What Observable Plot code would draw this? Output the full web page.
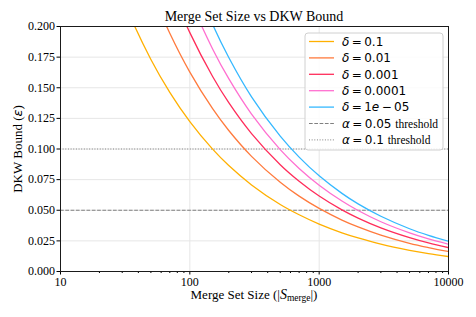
<!DOCTYPE html>
<html><head><meta charset="utf-8">
<script src="https://cdn.jsdelivr.net/npm/d3@7"></script>
<script src="https://cdn.jsdelivr.net/npm/@observablehq/plot@0.6"></script>
<style>
body{margin:0;background:#fff;}
#wrap{width:476px;height:317px;}
svg{display:block;}
</style></head><body><div id="wrap"></div>
<script>
// Merge set sizes (x)
const sizes = [10,15,20,30,50,70,100,150,200,300,500,700,1000,1500,2000,3000,5000,7000,10000];
// DKW bound per delta
const bound_d1 = [0.3870,0.3160,0.2737,0.2234,0.1731,0.1463,0.1224,0.0999,0.0865,0.0707,0.0547,0.0463,0.0387,0.0316,0.0274,0.0223,0.0173,0.0146,0.0122];
const bound_d2 = [0.5147,0.4203,0.3639,0.2972,0.2302,0.1945,0.1628,0.1329,0.1151,0.0940,0.0728,0.0615,0.0515,0.0420,0.0364,0.0297,0.0230,0.0195,0.0163];
const bound_d3 = [0.6165,0.5034,0.4359,0.3559,0.2757,0.2330,0.1950,0.1592,0.1378,0.1126,0.0872,0.0737,0.0616,0.0503,0.0436,0.0356,0.0276,0.0233,0.0195];
const bound_d4 = [0.7037,0.5746,0.4976,0.4063,0.3147,0.2660,0.2225,0.1817,0.1574,0.1285,0.0995,0.0841,0.0704,0.0575,0.0498,0.0406,0.0315,0.0266,0.0223];
const bound_d5 = [0.7812,0.6379,0.5524,0.4510,0.3494,0.2953,0.2470,0.2017,0.1747,0.1426,0.1105,0.0934,0.0781,0.0638,0.0552,0.0451,0.0349,0.0295,0.0247];
const deltaLabels = ["0.1","0.01","0.001","0.0001","1e − 05"];
const seriesColors = ["#ffb000","#ff7a3d","#ff2d5a","#ff6fd0","#35b8ff"];
const thresholdValues = [0.05, 0.1];
const thresholdLabels = ["0.05","0.1"];
const yTicks = [0,0.025,0.05,0.075,0.1,0.125,0.15,0.175,0.2];
const xTicks = [10,100,1000,10000];
const xMinor = [20,30,40,50,60,70,80,90,200,300,400,500,600,700,800,900,2000,3000,4000,5000,6000,7000,8000,9000];

const allBounds = [bound_d1,bound_d2,bound_d3,bound_d4,bound_d5];
const series = allBounds.map((vals,k)=>sizes.map((n,i)=>({n, eps: vals[i], k})));

const serif = "'Liberation Serif','Times New Roman',serif";
const math = "'DejaVu Sans',sans-serif";

const chart = Plot.plot({
  width:476, height:317,
  marginLeft:60, marginRight:28, marginTop:26, marginBottom:46,
  style:{fontFamily:serif, fontSize:"12px", background:"#fff", color:"#000", overflow:"visible"},
  x:{type:"log", domain:[10,10000], axis:null},
  y:{domain:[0,0.2], axis:null},
  marks:[
    Plot.gridX(xTicks.slice(1,3), {stroke:"#e6e6e6", strokeOpacity:1}),
    Plot.gridY(yTicks, {stroke:"#e6e6e6", strokeOpacity:1}),
    Plot.ruleY([thresholdValues[0]], {stroke:"#808080", strokeWidth:1, strokeDasharray:"3.7,1.6"}),
    Plot.ruleY([thresholdValues[1]], {stroke:"#808080", strokeWidth:1, strokeDasharray:"1,1.65"}),
    ...series.map((d,k)=>Plot.line(d, {x:"n", y:"eps", stroke:seriesColors[k], strokeWidth:1.3, curve:"catmull-rom", clip:true})),
    Plot.axisX(xTicks, {tickFormat:d=>String(d), tickSize:3.5, tickPadding:2, fontSize:12, label:null}),
    Plot.axisX(xMinor, {tickFormat:()=>"", tickSize:2, label:null}),
    Plot.axisY(yTicks, {tickFormat:d3.format(".3f"), tickSize:3.5, tickPadding:2, fontSize:12, label:null}),
    Plot.frame({stroke:"#1a1a1a", strokeWidth:1})
  ]
});
document.getElementById("wrap").appendChild(chart);

const svg = d3.select(chart);
// Title
svg.append("text").attr("x",254).attr("y",21).attr("text-anchor","middle")
  .style("font-family",serif).style("font-size","14px").attr("fill","#000")
  .text("Merge Set Size vs DKW Bound");
// X label
const xl = svg.append("text").attr("x",254).attr("y",299).attr("text-anchor","middle")
  .style("font-family",serif).style("font-size","13px").attr("fill","#000");
xl.append("tspan").text("Merge Set Size (|");
xl.append("tspan").style("font-style","italic").style("font-size","14px").text("S");
xl.append("tspan").attr("dy",2).style("font-size","9.5px").text("merge");
xl.append("tspan").attr("dy",-2).text("|)");
// Y label
const yl = svg.append("text").attr("transform","translate(22,149) rotate(-90)").attr("text-anchor","middle")
  .style("font-family",serif).style("font-size","13px").attr("fill","#000");
yl.append("tspan").text("DKW Bound (");
yl.append("tspan").style("font-family",math).style("font-style","italic").text("ε");
yl.append("tspan").text(")");

// Legend
const lg = svg.append("g").attr("text-anchor","start");
lg.append("rect").attr("x",305).attr("y",33).attr("width",138).attr("height",117).attr("rx",3)
  .attr("fill","#fff").attr("fill-opacity",0.85).attr("stroke","#d0d0d0");
const rowY = k => 41.5 + k*16.4;
deltaLabels.forEach((lab,k)=>{
  const y = rowY(k);
  lg.append("line").attr("x1",309).attr("x2",334).attr("y1",y).attr("y2",y).attr("stroke",seriesColors[k]).attr("stroke-width",1.3);
  const t = lg.append("text").attr("text-anchor","start").attr("x",342).attr("y",y).attr("dy","0.36em").style("font-family",math).style("font-size","12px").attr("fill","#000");
  t.append("tspan").style("font-style","italic").text("δ");
  t.append("tspan").text("\u2009=\u2009");
  if (lab.startsWith("1e")) {
    t.append("tspan").text("1");
    t.append("tspan").style("font-style","italic").text("e");
    t.append("tspan").text("\u2009−\u200905");
  } else t.append("tspan").text(lab);
});
thresholdLabels.forEach((lab,j)=>{
  const y = rowY(5+j);
  lg.append("line").attr("x1",309).attr("x2",334).attr("y1",y).attr("y2",y).attr("stroke","#808080")
    .attr("stroke-dasharray", j===0 ? "3.7,1.6" : "1,1.65");
  const t = lg.append("text").attr("text-anchor","start").attr("x",342).attr("y",y).attr("dy","0.36em").style("font-family",math).style("font-size","12px").attr("fill","#000");
  t.append("tspan").style("font-style","italic").text("α");
  t.append("tspan").text("\u2009=\u2009" + lab + " ");
  t.append("tspan").style("font-family",serif).style("font-size","11.5px").text("threshold");
});
</script></body></html>
